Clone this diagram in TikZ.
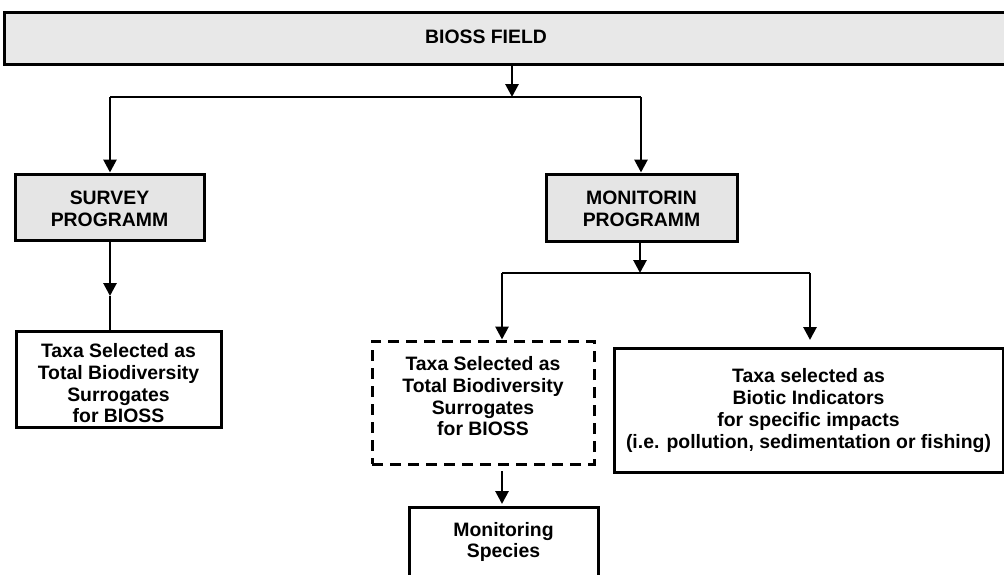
\documentclass[tikz,border=0pt]{standalone}
\usepackage{fontspec}
\setmainfont{Liberation Sans}
\usetikzlibrary{arrows.meta}
\begin{document}
\begin{tikzpicture}[x=1pt,y=-1pt,
  txt/.style={font=\fontsize{19.4}{21.7}\selectfont\bfseries, align=center, inner sep=0pt},
  box/.style={txt, draw=black, line width=3pt},
  graybox/.style={box, fill=gray!20},
  conn/.style={line width=2.8pt, -{Triangle[width=13pt,length=13pt]}},
  plain/.style={line width=2.8pt}
]
\useasboundingbox (0,0) rectangle (1004,574);
\fill[white] (0,0) rectangle (1004,574);

\node[graybox, fill=gray!18, minimum width=1018pt, minimum height=52pt] (field) at (513,38.5) {};
\node[txt] (fieldtxt) at (486,37) {BIOSS FIELD};

\node[graybox, minimum width=189pt, minimum height=66pt] (survey) at (109.5,207) {};
\node[txt] (surveytxt) at (109.5,208.5) {SURVEY\\PROGRAMM};
\node[graybox, minimum width=191pt, minimum height=67pt] (monit) at (641.5,207.5) {};
\node[txt] (monittxt) at (641.5,209) {MONITORIN\\PROGRAMM};

\node[box, minimum width=205pt, minimum height=96pt] (taxa1) at (118.5,379.5) {};
\node[txt] (taxa1txt) at (118.5,383.5) {Taxa Selected as\\Total Biodiversity\\Surrogates\\for BIOSS};

\node[box, dash pattern=on 11pt off 7pt, minimum width=222pt, minimum height=123pt] (taxa2) at (483,402.5) {};
\node[txt] (taxa2txt) at (483,396.5) {Taxa Selected as\\Total Biodiversity\\Surrogates\\for BIOSS};

\node[box, minimum width=389pt, minimum height=124pt] (biotic) at (808.5,410.5) {Taxa selected as\\Biotic Indicators\\for specific impacts\\(i.e. pollution, sedimentation or fishing)};

\node[box, minimum width=189pt, minimum height=90pt] (species) at (503.5,552) {};
\node[txt] (speciestxt) at (503.5,542) {Monitoring\\Species};

% top connectors
\coordinate (j1) at (512,97);
\coordinate (jl) at (110,97);
\coordinate (jr) at (641,97);
\draw[conn] (field.south -| j1) -- (j1);
\draw[plain] (jl) -- (jr);
\draw[conn] (jl) -- (survey.north -| jl);
\draw[conn] (jr) -- (monit.north -| jr);

% survey to taxa
\coordinate (sm) at (110,296);
\draw[conn] (survey.south -| sm) -- (sm);
\draw[plain] (sm) -- (taxa1.north -| sm);

% monitoring to branches
\coordinate (j2) at (640,273);
\coordinate (j2l) at (502,273);
\coordinate (j2r) at (810,273);
\draw[conn] (monit.south -| j2) -- (j2);
\draw[plain] (j2l) -- (j2r);
\draw[conn] (j2l) -- (taxa2.north -| j2l);
\coordinate (br) at (810,340);
\draw[conn] (j2r) -- (br);

% dashed box to species
\coordinate (ds) at (502,471);
\coordinate (de) at (502,504);
\draw[conn] (ds) -- (de);
\end{tikzpicture}
\end{document}
